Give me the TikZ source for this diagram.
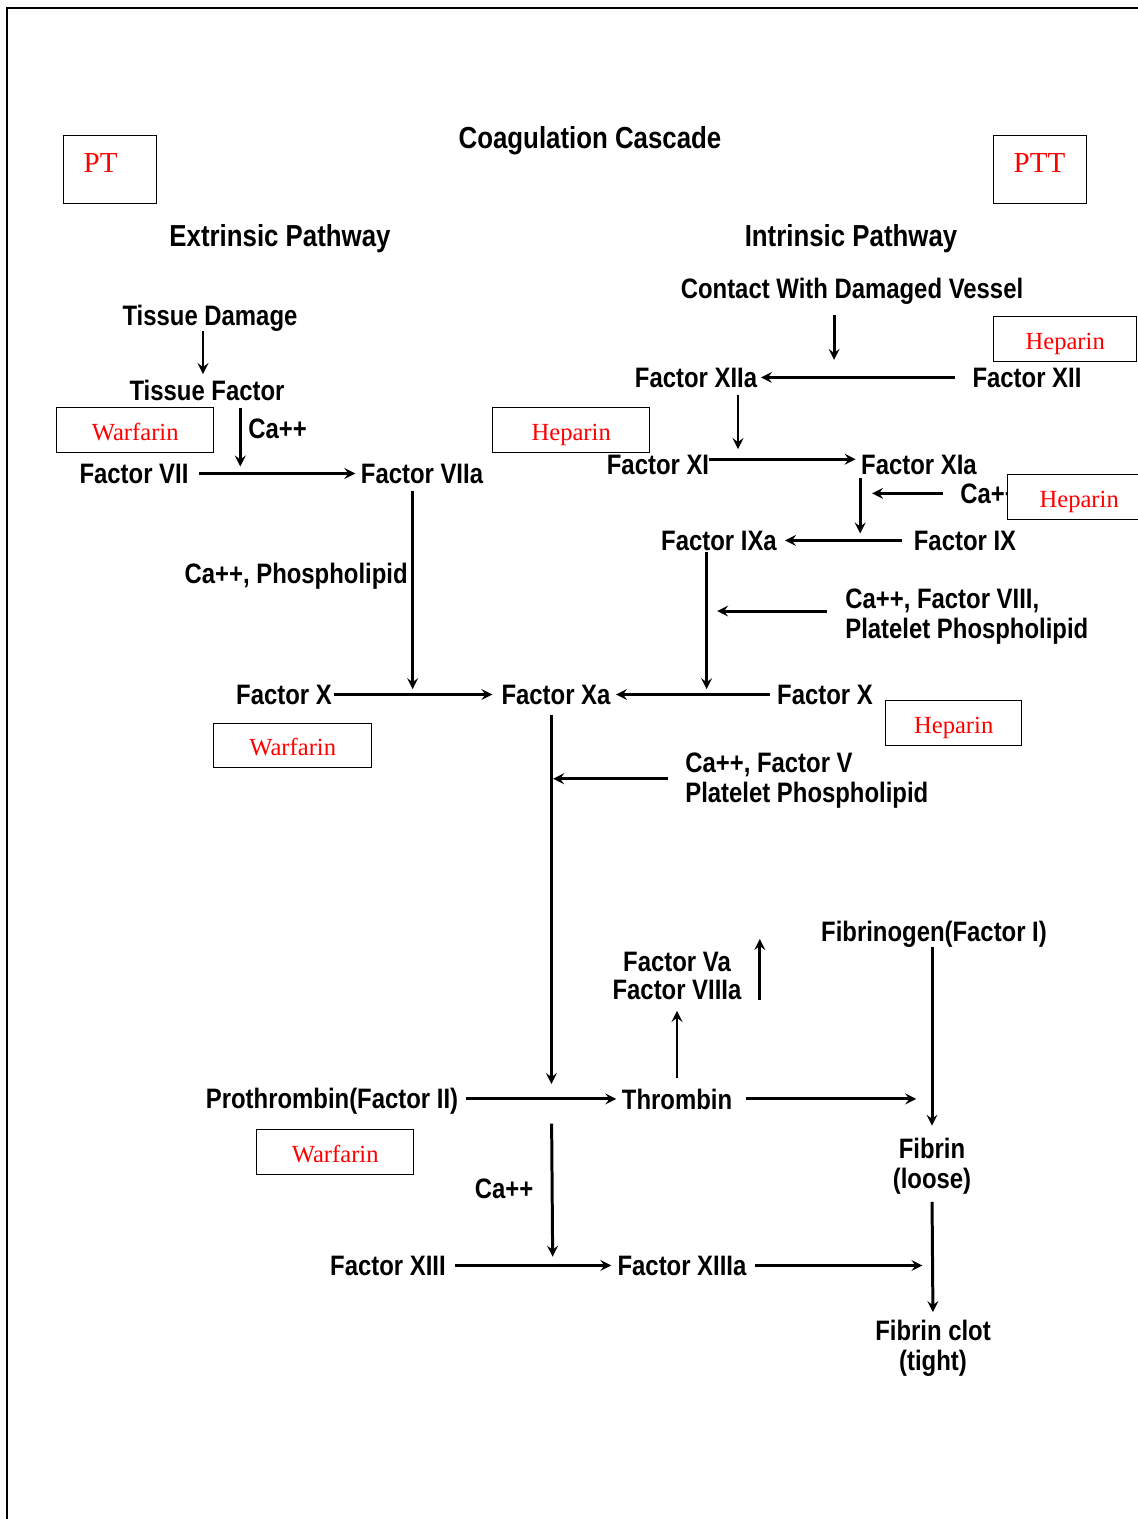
\documentclass[tikz,border=0pt]{standalone}
\usepackage{fontspec}
\usepackage{tikz}
\usetikzlibrary{arrows}
\usetikzlibrary{calc}
\usetikzlibrary{positioning}
\newfontfamily\lblfont{Liberation Sans}[FakeStretch=0.85]
\newfontfamily\drugfont{Liberation Serif}

\tikzset{
  lbl/.style={font=\lblfont\bfseries\fontsize{16}{17}\selectfont, inner sep=0pt, anchor=base},
  hdr/.style={lbl, font=\lblfont\bfseries\fontsize{17.3}{19}\selectfont},
  drug/.style={draw, fill=white, line width=0.8pt, text=red, font=\drugfont\fontsize{14}{16}\selectfont,
    anchor=north west, inner sep=0pt, minimum height=0.9cm, text height=11.5pt, text depth=0pt},
  testbox/.style={drug, font=\drugfont\fontsize{16.5}{18}\selectfont, minimum width=1.86cm,
    minimum height=1.36cm, inner xsep=0.4cm, text width=1.06cm, align=left,
    text height=10.9pt, text depth=0.26cm},
  arr/.style={line width=1.7pt, ->, >=stealth, shorten <=4pt, shorten >=3pt},
}

\begin{document}
\begin{tikzpicture}[x=0.02cm, y=-0.02cm]
    \useasboundingbox (0,0) rectangle (1138,1519);
    % page frame
    \draw[line width=0.8pt] (7,1519) -- (7,8) -- (1138,8);

    % title and pathway heads
    \node[hdr] (title) at (590,148) {Coagulation Cascade};
    \node[hdr] (extr) at (280,246) {Extrinsic Pathway};
    \node[hdr] (intr) at (851,246) {Intrinsic Pathway};
    \node[testbox] (pt) at (63,135) {PT};
    \node[testbox] (ptt) at (993,135) {PTT};

    % extrinsic pathway
    \node[lbl] (tdam) at (210,325) {Tissue Damage};
    \node[lbl] (tfac) at (207,400) {Tissue Factor};
    \node[lbl, anchor=base west] (ca1) at (248,438) {Ca++};
    \node[lbl] (f7) at (134,483) {Factor VII};
    \node[lbl] (f7a) at (422,483) {Factor VIIa};
    \node[lbl, anchor=base east] (caphos) at (408,583) {Ca++, Phospholipid};

    % intrinsic pathway
    \node[lbl] (contact) at (852,298) {Contact With Damaged Vessel};
    \node[lbl] (f12a) at (696,387) {Factor XIIa};
    \node[lbl] (f12) at (1027,387) {Factor XII};
    \node[lbl] (f11) at (658,474) {Factor XI};
    \node[lbl] (f11a) at (919,474) {Factor XIa};
    \node[lbl, anchor=base west] (ca2) at (960,503) {Ca++};
    \node[lbl] (f9a) at (719,550) {Factor IXa};
    \node[lbl] (f9) at (965,550) {Factor IX};
    \node[lbl, anchor=north west, align=left] (cof8) at (845,589) {Ca++, Factor VIII,\\Platelet Phospholipid};

    % common pathway
    \node[lbl] (f10) at (284,704) {Factor X};
    \node[lbl] (f10a) at (556,704) {Factor Xa};
    \node[lbl] (f10b) at (825,704) {Factor X};
    \node[lbl, anchor=north west, align=left] (cof5) at (685,753) {Ca++, Factor V\\Platelet Phospholipid};
    \node[lbl] (fgen) at (934,941) {Fibrinogen(Factor I)};
    \node[lbl, anchor=north, align=center] (f5a) at (677,952) {Factor Va\\[-1pt]Factor VIIIa};
    \node[lbl] (proth) at (332,1108) {Prothrombin(Factor II)};
    \node[lbl] (thromb) at (677,1109) {Thrombin};
    \node[lbl, anchor=north, align=center] (fibrin) at (932,1138) {Fibrin\\(loose)};
    \node[lbl] (ca3) at (504,1198) {Ca++};
    \node[lbl] (f13) at (388,1275) {Factor XIII};
    \node[lbl] (f13a) at (682,1275) {Factor XIIIa};
    \node[lbl, anchor=north, align=center] (clot) at (933,1320) {Fibrin clot\\(tight)};

    % where arrows meet the lines
    \coordinate (j7) at ($(f7.east)!0.3!(f7a.west)$);
    \coordinate (j10) at ($(f10.east)!0.476!(f10a.west)$);
    \coordinate (j10b) at ($(f10a.east)!0.577!(f10b.west)$);
    \coordinate (j12) at ($(f12a.east)!0.357!(f12.west)$);
    \coordinate (j9) at ($(f9a.east)!0.609!(f9.west)$);
    \coordinate (v9) at ($(f9a.south -| j10b)!0.42!(j10b)$);
    \coordinate (j2) at ($(proth.east |- thromb.west)!0.57!(thromb.west)$);
    \coordinate (v10) at ($(f10a.south -| j2)!0.188!(j2)$);
    \coordinate (j13) at ($(f13.east)!0.623!(f13a.west)$);

    % extrinsic arrows
    \draw[arr, shorten <=0pt] ($(tdam.south)+(-7,0)$) -- ($(tfac.north)+(-4,0)$);
    \draw[arr, shorten >=4pt] (tfac.south -| j7) -- (j7);
    \draw[arr, shorten <=6pt] (f7) -- (f7a);
    \draw[arr] (f7a.south -| j10) -- (j10);
    \draw[arr, shorten <=1pt, shorten >=5pt] (f10) -- (f10a);
    \draw[arr] (f10b) -- (f10a);

    % intrinsic arrows
    \draw[arr, shorten <=6pt, shorten >=10pt] (contact.south -| j12) -- (j12);
    \draw[arr, shorten <=10pt, shorten >=2pt] (f12) -- (f12a);
    \draw[arr] ($(f12a.south)+(42,0)$) -- ($(f11.north)+(80,0)$);
    \draw[arr, shorten <=0pt] ([yshift=3pt]f11.east) -- ([yshift=3pt]f11a.west);
    \draw[arr, shorten <=2pt, shorten >=4pt] (f11a.south -| j9) -- (j9);
    \draw[arr, shorten <=9.6pt, shorten >=6.8pt] (ca2.west) -- (ca2.west -| j9);
    \draw[arr, shorten <=6.8pt, shorten >=4.5pt] (f9) -- (f9a);
    \draw[arr, shorten <=1pt] (f9a.south -| j10b) -- (j10b);
    \draw[arr, shorten <=10pt, shorten >=6pt] (cof8.west |- v9) -- (v9);

    % common pathway arrows
    \draw[arr, shorten <=6pt, shorten >=8.5pt] (f10a.south -| j2) -- (j2);
    \draw[arr, shorten <=9.6pt, shorten >=1pt] (cof5.west |- v10) -- (v10);
    \draw[arr, shorten <=4.5pt] (proth.east |- thromb.west) -- (thromb.west);
    \draw[arr, shorten <=8pt, shorten >=9pt] (thromb.east) -- (thromb.east -| fibrin.north);
    \draw[arr, shorten <=5.7pt, shorten >=6pt] (thromb.north) -- (f5a.south);
    \draw[arr, shorten <=0pt, shorten >=0pt] ($(f5a.south east)+(18,0)$) -- ($(f5a.north east)+(18,-13)$);
    \draw[arr, shorten <=0pt, shorten >=7pt] (fgen.south -| fibrin.north) -- (fibrin.north);
    \draw[arr, shorten >=4.5pt] (fibrin.south) -- (clot.north);
    \draw[arr, shorten <=14pt, shorten >=5pt] (j2) -- (j13);
    \draw[arr, shorten <=5pt, shorten >=3.4pt] (f13) -- (f13a);
    \draw[arr, shorten <=4.5pt, shorten >=6pt] (f13a.east) -- (f13a.east -| clot.north);

    % drug boxes
    \node[drug, minimum width=3.14cm] (warf1) at (56,407) {Warfarin};
    \node[drug, minimum width=3.14cm] (hep1) at (492,407) {Heparin};
    \node[drug, minimum width=2.86cm] (hep2) at (993,316) {Heparin};
    \node[drug, minimum width=2.86cm] (hep3) at (1007,474) {Heparin};
    \node[drug, minimum width=2.72cm] (hep4) at (885,700) {Heparin};
    \node[drug, minimum width=3.16cm, minimum height=0.88cm] (warf2) at (213,723) {Warfarin};
    \node[drug, minimum width=3.14cm] (warf3) at (256,1129) {Warfarin};
\end{tikzpicture}
\end{document}
